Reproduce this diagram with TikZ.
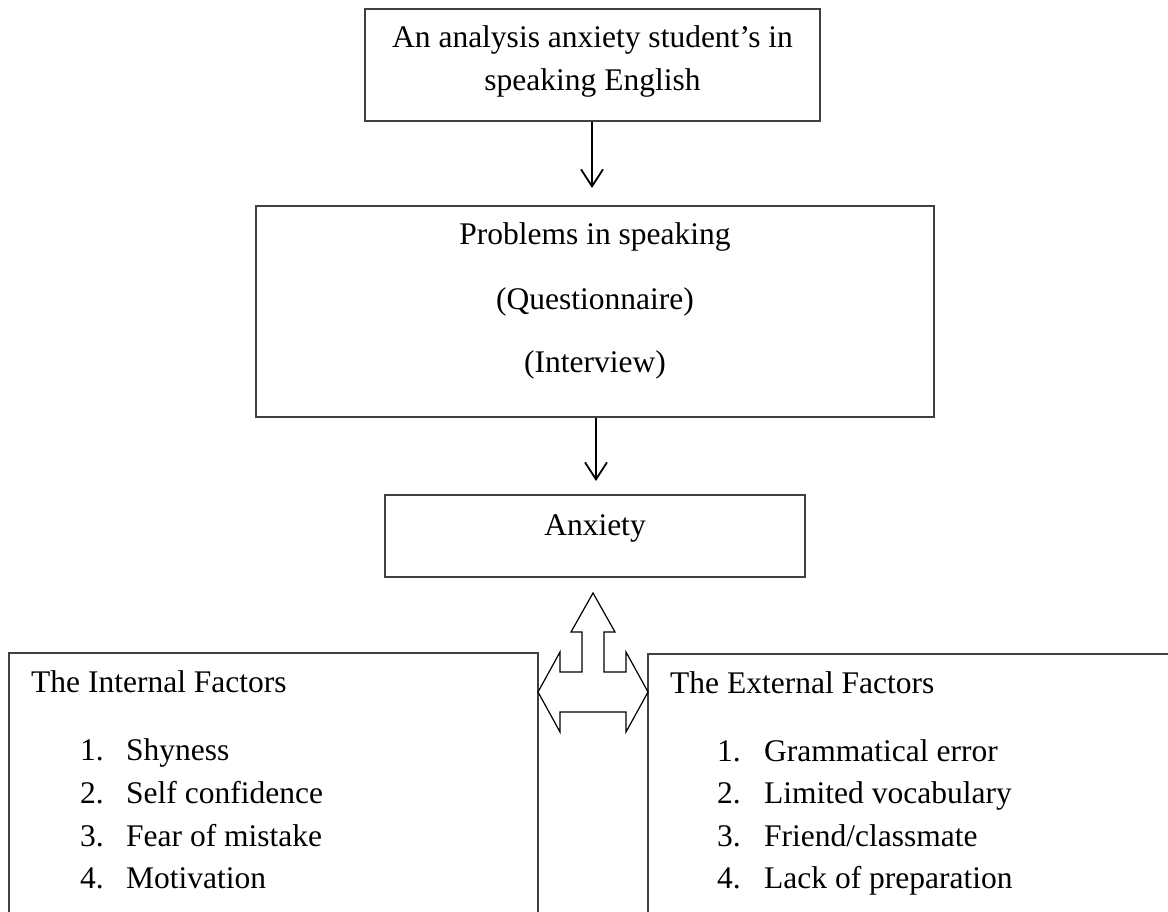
\documentclass[tikz,border=0pt]{standalone}
\usepackage{fontspec}
\setmainfont{Liberation Serif}
\usetikzlibrary{arrows.meta}
\begin{document}
\begin{tikzpicture}[x=1pt,y=-1pt,
  box/.style={draw=black!75,line width=1.3pt,rectangle,inner sep=0pt},
  txt/.style={inner sep=0pt,anchor=base,font=\fontsize{31.5}{38}\selectfont},
  ltxt/.style={txt,anchor=base west},
  flow/.style={line width=1.8pt,-{Straight Barb[length=17pt,width=22pt,line width=1.8pt]}},
  blockarrow/.style={draw=black,line width=1.2pt,line join=miter,fill=white},
]
\clip (0,0) rectangle (1168,912);
\fill[white] (0,0) rectangle (1168,912);

% boxes
\node[box,minimum width=455pt,minimum height=112pt] (top) at (592.5,65) {};
\node[box,minimum width=678pt,minimum height=211pt] (mid) at (595,311.5) {};
\node[box,minimum width=420pt,minimum height=82pt] (anx) at (595,536) {};
\node[box,minimum width=529pt,minimum height=300pt] (inner) at (273.5,803) {};
\node[box,minimum width=560pt,minimum height=300pt] (outer) at (928,804) {};

% texts
\node[txt] (ta) at (592.5,48) {An analysis anxiety student’s in};
\node[txt] (tb) at (592.5,91) {speaking English};
\node[txt] (ma) at (595,245) {Problems in speaking};
\node[txt] (mb) at (595,309) {(Questionnaire)};
\node[txt] (mc) at (595,372) {(Interview)};
\node[txt] (aa) at (595,535) {Anxiety};

\node[ltxt] (ih) at (31,692) {The Internal Factors};
\node[ltxt] (in1) at (80,760) {1.};
\node[ltxt] (in2) at (80,803) {2.};
\node[ltxt] (in3) at (80,846) {3.};
\node[ltxt] (in4) at (80,888) {4.};
\node[ltxt] (ii1) at (126,760) {Shyness};
\node[ltxt] (ii2) at (126,803) {Self confidence};
\node[ltxt] (ii3) at (126,846) {Fear of mistake};
\node[ltxt] (ii4) at (126,888) {Motivation};

\node[ltxt] (eh) at (670,693) {The External Factors};
\node[ltxt] (en1) at (717,761) {1.};
\node[ltxt] (en2) at (717,803) {2.};
\node[ltxt] (en3) at (717,846) {3.};
\node[ltxt] (en4) at (717,888) {4.};
\node[ltxt] (ei1) at (764,761) {Grammatical error};
\node[ltxt] (ei2) at (764,803) {Limited vocabulary};
\node[ltxt] (ei3) at (764,846) {Friend/classmate};
\node[ltxt] (ei4) at (764,888) {Lack of preparation};

% connectors
\coordinate (e1) at (592,188);
\coordinate (e2) at (596,481);
\draw[flow] (top.south -| e1) -- (e1);
\draw[flow] (mid.south -| e2) -- (e2);

% three-way block arrow
\draw[blockarrow] (593,593) -- (615,632) -- (604,632) -- (604,672) -- (626,672)
  -- (626,652) -- (648,692) -- (626,732) -- (626,712) -- (560,712) -- (560,732)
  -- (538,692) -- (560,652) -- (560,672) -- (582,672) -- (582,632) -- (571,632) -- cycle;
\end{tikzpicture}
\end{document}
